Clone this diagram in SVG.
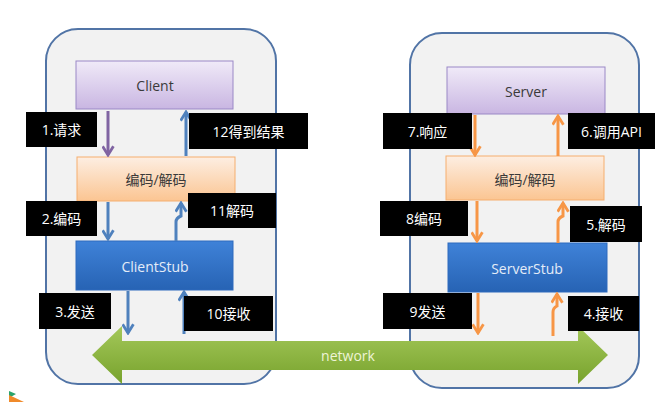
<svg xmlns="http://www.w3.org/2000/svg" width="662" height="419" viewBox="0 0 662 419">
<defs>
<linearGradient id="gPurple" x1="0" y1="0" x2="0" y2="1"><stop offset="0" stop-color="#f0eaf8"/><stop offset="1" stop-color="#c9b6e2"/></linearGradient>
<linearGradient id="gPeach" x1="0" y1="0" x2="0" y2="1"><stop offset="0" stop-color="#fdeee2"/><stop offset="1" stop-color="#fbc592"/></linearGradient>
<linearGradient id="gBlue" x1="0" y1="0" x2="0" y2="1"><stop offset="0" stop-color="#3f82d8"/><stop offset="1" stop-color="#2763b4"/></linearGradient>
<linearGradient id="gGreen" x1="0" y1="0" x2="0" y2="1"><stop offset="0" stop-color="#a4c85a"/><stop offset="1" stop-color="#77a22c"/></linearGradient>
<marker id="mPurple" viewBox="0 0 12 12" refX="10" refY="6" markerWidth="13" markerHeight="13" markerUnits="userSpaceOnUse" orient="auto"><path d="M2,1 L10,6 L2,11" fill="none" stroke="#8064a2" stroke-width="2.6"/></marker>
<marker id="mBlue" viewBox="0 0 12 12" refX="10" refY="6" markerWidth="13" markerHeight="13" markerUnits="userSpaceOnUse" orient="auto"><path d="M2,1 L10,6 L2,11" fill="none" stroke="#4f81bd" stroke-width="2.6"/></marker>
<marker id="mOrange" viewBox="0 0 12 12" refX="10" refY="6" markerWidth="13" markerHeight="13" markerUnits="userSpaceOnUse" orient="auto"><path d="M2,1 L10,6 L2,11" fill="none" stroke="#f79646" stroke-width="2.6"/></marker>
</defs>
<style>
.container{fill:#f2f2f2;stroke:#5174a6;stroke-width:2}
.txt{font-family:"Open Sans","Noto Sans","Noto Sans CJK SC",sans-serif;font-size:14px;text-anchor:middle;dominant-baseline:central}
.dark{fill:#3a3a3a}
.lbl rect{fill:#000}
.lbl text{fill:#fff}
.stubtxt{fill:#e4ecf8}
.ab{fill:none;stroke:#4f81bd;stroke-width:3}
.ap{fill:none;stroke:#8064a2;stroke-width:3}
.ao{fill:none;stroke:#f79646;stroke-width:3}
</style>
<rect width="662" height="419" fill="#ffffff"/>
<g id="client-side"><rect class="container" x="46" y="29" width="230" height="355" rx="32"/></g>
<g id="server-side"><rect class="container" x="410" y="33" width="229" height="355" rx="32"/></g>

<g id="client"><rect x="76" y="61" width="157" height="48" fill="url(#gPurple)" stroke="#9a88c6" stroke-width="1"/><text class="txt dark" x="155" y="85">Client</text></g>
<g id="codec-left"><rect x="77" y="157" width="158" height="44" fill="url(#gPeach)" stroke="#f5ae6e" stroke-width="1"/><text class="txt dark" x="156" y="179">编码/解码</text></g>
<g id="clientstub"><rect x="76" y="241" width="157" height="49" fill="url(#gBlue)" stroke="#2e6bbd" stroke-width="1"/><text class="txt stubtxt" x="155" y="266">ClientStub</text></g>

<g id="server"><rect x="447" y="67" width="158" height="47" fill="url(#gPurple)" stroke="#9a88c6" stroke-width="1"/><text class="txt dark" x="526" y="91">Server</text></g>
<g id="codec-right"><rect x="446" y="156" width="158" height="44" fill="url(#gPeach)" stroke="#f5ae6e" stroke-width="1"/><text class="txt dark" x="525" y="179">编码/解码</text></g>
<g id="serverstub"><rect x="448" y="243" width="159" height="49" fill="url(#gBlue)" stroke="#2e6bbd" stroke-width="1"/><text class="txt stubtxt" x="527" y="268">ServerStub</text></g>

<g id="network"><polygon points="92,355 122,326 122,341 578,341 578,326 608,355 578,384 578,370 122,370 122,384" fill="url(#gGreen)"/><text class="txt" x="348" y="355" fill="#eef4d6" font-size="13">network</text></g>

<g id="connectors">
<path class="ap" d="M108,111 V155" marker-end="url(#mPurple)"/>
<path class="ab" d="M186,156 V112" marker-end="url(#mBlue)"/>
<path class="ab" d="M108,202 V239" marker-end="url(#mBlue)"/>
<path class="ab" d="M176,241 V222 Q176,218 181,216 V203" marker-end="url(#mBlue)"/>
<path class="ab" d="M128,291 V333" marker-end="url(#mBlue)"/>
<path class="ab" d="M184,334 V292" marker-end="url(#mBlue)"/>
<path class="ao" d="M475,115 V155" marker-end="url(#mOrange)"/>
<path class="ao" d="M558,156 V116" marker-end="url(#mOrange)"/>
<path class="ao" d="M477,201 V241" marker-end="url(#mOrange)"/>
<path class="ao" d="M558,243 V222 Q558,218 563,216 V203" marker-end="url(#mOrange)"/>
<path class="ao" d="M478,293 V333" marker-end="url(#mOrange)"/>
<path class="ao" d="M553,336 V312 Q553,308 557,306 V294" marker-end="url(#mOrange)"/>
</g>

<g id="label-1" class="lbl"><rect x="26" y="112" width="71" height="35"/><text class="txt" x="61.5" y="129.5">1.请求</text></g>
<g id="label-12" class="lbl"><rect x="189" y="113" width="119" height="36"/><text class="txt" x="248.5" y="131">12得到结果</text></g>
<g id="label-2" class="lbl"><rect x="26" y="201" width="71" height="35"/><text class="txt" x="61.5" y="218.5">2.编码</text></g>
<g id="label-11" class="lbl"><rect x="188" y="193" width="88" height="35"/><text class="txt" x="232" y="210.5">11解码</text></g>
<g id="label-3" class="lbl"><rect x="39" y="293" width="72" height="36"/><text class="txt" x="75" y="311">3.发送</text></g>
<g id="label-10" class="lbl"><rect x="184" y="296" width="89" height="35"/><text class="txt" x="228.5" y="313.5">10接收</text></g>
<g id="label-7" class="lbl"><rect x="383" y="113" width="89" height="36"/><text class="txt" x="427.5" y="131">7.响应</text></g>
<g id="label-6" class="lbl"><rect x="568" y="113" width="87" height="36"/><text class="txt" x="611.5" y="131">6.调用API</text></g>
<g id="label-8" class="lbl"><rect x="380" y="201" width="88" height="35"/><text class="txt" x="424" y="218.5">8编码</text></g>
<g id="label-5" class="lbl"><rect x="570" y="206" width="72" height="36"/><text class="txt" x="606" y="224">5.解码</text></g>
<g id="label-9" class="lbl"><rect x="383" y="293" width="89" height="36"/><text class="txt" x="427.5" y="311">9发送</text></g>
<g id="label-4" class="lbl"><rect x="568" y="296" width="71" height="35"/><text class="txt" x="603.5" y="313.5">4.接收</text></g>

<g id="corner-fragment"><polygon points="9,391 16,394 9,398" fill="#2aa36b"/><polygon points="9,395 24,402 9,402" fill="#f08a2a"/></g>
</svg>
